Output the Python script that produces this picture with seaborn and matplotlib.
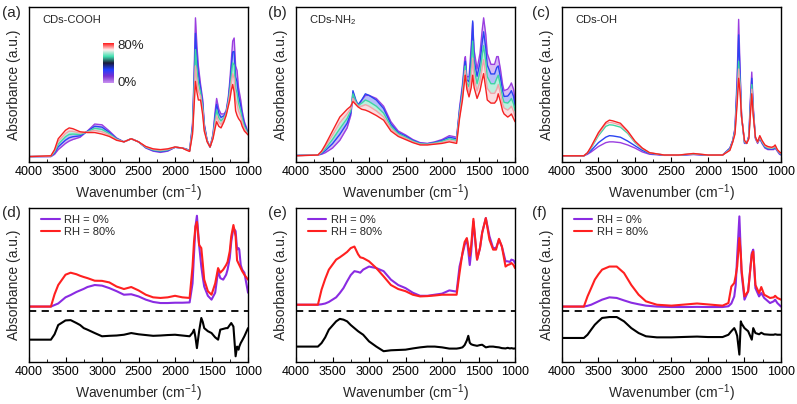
import matplotlib
matplotlib.use("Agg")
import matplotlib.pyplot as plt
from matplotlib.colors import LinearSegmentedColormap
import numpy as np
import seaborn as sns

# --- data: top row, spectra at several RH levels (0, 20, 40, 60, 80 %) ---
WN_A = [4000, 3700, 3650, 3600, 3500, 3450, 3400, 3300, 3200, 3100, 3000, 2900, 2800, 2700,
        2600, 2500, 2400, 2300, 2200, 2100, 2000, 1900, 1850, 1800, 1760, 1740, 1720, 1700,
        1680, 1650, 1620, 1600, 1560, 1520, 1480, 1450, 1430, 1400, 1370, 1330, 1300, 1270,
        1250, 1230, 1210, 1190, 1170, 1150, 1130, 1100, 1080, 1050, 1020, 1000]
A_RH0 = [.035, .035, .05, .08, .12, .135, .145, .16, .20, .245, .24, .20, .155, .13,
         .15, .13, .09, .07, .062, .07, .095, .09, .085, .075, .25, .55, .93, .75,
         .62, .50, .40, .25, .14, .095, .18, .33, .41, .34, .31, .31, .33, .42,
         .52, .65, .78, .80, .62, .59, .48, .40, .33, .26, .22, .18]
A_RH20 = [.035, .036, .058, .098, .141, .156, .163, .169, .198, .231, .225, .191, .151, .13,
          .15, .13, .093, .074, .067, .074, .095, .09, .083, .073, .233, .50, .83, .675,
          .565, .475, .375, .238, .138, .095, .173, .303, .373, .313, .288, .298, .323, .405,
          .49, .603, .71, .713, .548, .518, .43, .365, .305, .245, .211, .179]
A_RH40 = [.035, .037, .065, .115, .163, .178, .18, .178, .195, .218, .21, .183, .148, .13,
          .15, .13, .095, .078, .071, .078, .096, .09, .082, .072, .215, .45, .725, .60,
          .51, .45, .35, .225, .135, .096, .165, .275, .335, .285, .265, .285, .315, .39,
          .46, .555, .64, .625, .475, .445, .38, .33, .28, .23, .203, .178]
A_RH60 = [.035, .039, .073, .133, .184, .199, .198, .186, .193, .204, .195, .174, .144, .13,
          .15, .13, .098, .081, .076, .081, .096, .09, .08, .07, .198, .40, .62, .525,
          .455, .425, .325, .213, .133, .096, .158, .248, .298, .258, .243, .273, .308, .375,
          .43, .508, .57, .538, .403, .373, .33, .295, .255, .215, .194, .176]
A_RH80 = [.035, .04, .08, .15, .205, .22, .215, .195, .19, .19, .18, .165, .14, .13,
          .15, .13, .10, .085, .08, .085, .097, .09, .078, .068, .18, .35, .52, .45,
          .40, .40, .30, .20, .13, .097, .15, .22, .26, .23, .22, .26, .30, .36,
          .40, .46, .50, .45, .33, .30, .28, .26, .23, .20, .185, .175]

WN_B = [4000, 3700, 3650, 3600, 3500, 3400, 3300, 3250, 3220, 3180, 3150, 3100, 3050, 3000,
        2900, 2800, 2700, 2600, 2500, 2400, 2300, 2200, 2100, 2000, 1900, 1800, 1760, 1720,
        1690, 1680, 1660, 1630, 1600, 1580, 1560, 1520, 1480, 1450, 1430, 1400, 1380, 1330,
        1280, 1250, 1230, 1200, 1170, 1150, 1100, 1070, 1050, 1020, 1000]
B_RH0 = [.043, .045, .05, .06, .09, .14, .22, .30, .42, .38, .36, .40, .43, .43,
         .41, .36, .26, .20, .175, .145, .125, .12, .13, .145, .17, .16, .35, .50,
         .66, .68, .55, .55, .75, .90, .72, .60, .70, .85, .93, .82, .70, .63,
         .63, .68, .68, .60, .50, .46, .47, .49, .51, .47, .40]
B_RH20 = [.042, .045, .055, .073, .118, .178, .25, .315, .46, .40, .37, .40, .44, .43,
          .40, .345, .245, .19, .168, .14, .121, .118, .126, .139, .16, .15, .333, .475,
          .628, .65, .53, .518, .683, .91, .66, .553, .64, .77, .84, .733, .625, .568,
          .568, .61, .62, .548, .458, .423, .425, .443, .46, .423, .365]
B_RH40 = [.042, .045, .06, .085, .145, .215, .28, .33, .44, .39, .365, .38, .40, .39,
          .36, .315, .23, .183, .16, .135, .118, .115, .123, .133, .15, .14, .315, .45,
          .595, .62, .51, .485, .615, .78, .60, .505, .58, .69, .75, .645, .55, .505,
          .505, .54, .56, .495, .415, .385, .38, .395, .41, .375, .33]
B_RH60 = [.041, .045, .065, .098, .173, .253, .31, .345, .41, .38, .36, .36, .37, .36,
          .33, .29, .215, .174, .153, .13, .114, .113, .119, .126, .14, .13, .298, .425,
          .563, .59, .49, .453, .548, .67, .54, .458, .52, .61, .66, .558, .475, .443,
          .443, .47, .50, .443, .373, .348, .335, .348, .36, .328, .295]
B_RH80 = [.04, .045, .07, .11, .20, .29, .34, .36, .39, .37, .355, .34, .335, .325,
          .30, .27, .20, .165, .145, .125, .11, .11, .115, .12, .13, .12, .28, .40,
          .53, .56, .47, .42, .48, .56, .48, .41, .46, .53, .57, .47, .40, .38,
          .38, .40, .44, .39, .33, .31, .29, .30, .31, .28, .26]

WN_C = [4000, 3700, 3650, 3600, 3500, 3400, 3350, 3300, 3200, 3100, 3000, 2900, 2800, 2600,
        2400, 2200, 2000, 1800, 1700, 1660, 1630, 1600, 1580, 1560, 1540, 1500, 1470, 1440,
        1420, 1400, 1380, 1350, 1320, 1290, 1260, 1220, 1180, 1130, 1100, 1080, 1050, 1020, 1000]
C_RH0 = [.04, .04, .05, .065, .10, .125, .13, .13, .125, .11, .09, .065, .05, .043,
         .043, .048, .043, .045, .09, .14, .22, .55, .92, .60, .30, .12, .12, .17,
         .40, .58, .36, .15, .12, .15, .12, .09, .08, .08, .08, .09, .07, .05, .045]
C_RH20 = [.04, .04, .055, .075, .125, .16, .17, .168, .16, .135, .105, .075, .055, .044,
          .044, .05, .044, .045, .088, .14, .21, .50, .82, .56, .30, .125, .12, .165,
          .37, .54, .34, .155, .125, .155, .125, .095, .085, .083, .085, .095, .073, .055, .048]
C_RH40 = [.04, .04, .058, .09, .17, .23, .24, .238, .225, .185, .125, .085, .058, .045,
          .045, .052, .045, .045, .082, .135, .20, .44, .65, .50, .29, .13, .12, .16,
          .33, .50, .32, .16, .127, .16, .13, .10, .09, .088, .09, .10, .076, .06, .052]
C_RH60 = [.04, .04, .06, .095, .18, .245, .255, .252, .238, .193, .13, .088, .06, .045,
          .045, .054, .045, .045, .078, .13, .19, .41, .60, .48, .29, .135, .12, .155,
          .31, .47, .31, .16, .128, .165, .135, .105, .095, .09, .095, .105, .078, .062, .055]
C_RH80 = [.04, .04, .06, .10, .19, .255, .27, .265, .25, .20, .135, .09, .06, .045,
          .045, .055, .045, .045, .075, .13, .18, .38, .54, .45, .29, .14, .12, .15,
          .30, .44, .30, .16, .13, .17, .14, .11, .10, .095, .10, .11, .08, .065, .058]

# --- data: bottom row, RH 0 %, RH 80 % and the difference spectrum ---
WN_D = [4000, 3700, 3650, 3600, 3500, 3430, 3350, 3300, 3250, 3200, 3100, 3000, 2900, 2800,
        2700, 2600, 2500, 2400, 2300, 2200, 2100, 2000, 1900, 1800, 1760, 1740, 1720, 1700,
        1670, 1640, 1620, 1600, 1550, 1500, 1450, 1410, 1380, 1340, 1300, 1280, 1250, 1230,
        1200, 1170, 1150, 1130, 1120, 1100, 1080, 1050, 1000]
D_RH0 = [.36, .36, .37, .38, .42, .435, .455, .465, .475, .487, .50, .496, .48, .46,
         .437, .44, .426, .405, .39, .383, .383, .385, .385, .387, .51, .70, .88, .95,
         .76, .62, .55, .49, .43, .405, .45, .59, .545, .535, .567, .60, .675, .78,
         .87, .85, .73, .74, .73, .63, .60, .58, .45]
D_RH80 = [.36, .36, .44, .50, .567, .58, .57, .56, .552, .545, .528, .527, .517, .49,
          .474, .487, .465, .437, .42, .416, .42, .43, .42, .416, .62, .78, .88, .91,
          .76, .74, .64, .535, .46, .437, .51, .61, .58, .60, .63, .65, .72, .816,
          .89, .816, .66, .64, .63, .61, .59, .567, .535]
D_DIFF = [.145, .145, .18, .24, .27, .272, .253, .24, .22, .21, .188, .167, .17, .172,
          .177, .188, .18, .175, .17, .172, .175, .177, .172, .167, .19, .21, .16, .09,
          .20, .286, .26, .22, .20, .188, .16, .145, .21, .215, .22, .22, .24, .253,
          .23, .037, .10, .08, .10, .123, .14, .167, .22]

WN_E = [4000, 3700, 3650, 3600, 3550, 3450, 3400, 3350, 3300, 3250, 3200, 3150, 3120, 3080,
        3000, 2900, 2800, 2700, 2600, 2500, 2400, 2300, 2200, 2100, 2000, 1900, 1800, 1760,
        1720, 1690, 1660, 1640, 1620, 1600, 1570, 1520, 1480, 1450, 1400, 1350, 1300, 1260,
        1220, 1180, 1130, 1100, 1070, 1050, 1020, 1000]
E_RH0 = [.372, .372, .375, .38, .39, .42, .448, .48, .524, .565, .59, .585, .58, .60,
         .62, .61, .59, .535, .50, .48, .45, .43, .43, .437, .444, .465, .457, .62,
         .70, .76, .80, .72, .63, .72, .913, .665, .74, .84, .935, .816, .74, .74,
         .794, .75, .654, .654, .65, .665, .66, .643]
E_RH80 = [.372, .372, .47, .54, .60, .665, .68, .697, .715, .74, .75, .70, .68, .675,
          .654, .61, .556, .50, .474, .46, .437, .426, .428, .432, .437, .437, .437, .578,
          .71, .78, .805, .75, .69, .76, .93, .665, .74, .84, .935, .794, .73, .73,
          .80, .75, .62, .63, .635, .643, .63, .61]
E_DIFF = [.10, .10, .123, .16, .21, .264, .28, .275, .264, .24, .22, .20, .19, .177,
          .134, .10, .07, .076, .078, .08, .088, .095, .10, .10, .095, .087, .087, .09,
          .095, .11, .14, .17, .125, .115, .11, .105, .11, .112, .095, .10, .10, .097,
          .095, .09, .088, .092, .088, .09, .087, .088]

WN_F = [4000, 3700, 3650, 3600, 3550, 3500, 3450, 3350, 3250, 3150, 3050, 2950, 2850, 2700,
        2500, 2300, 2150, 2000, 1800, 1720, 1680, 1640, 1620, 1600, 1570, 1550, 1540, 1500,
        1450, 1400, 1380, 1350, 1300, 1270, 1230, 1150, 1100, 1080, 1050, 1000]
F_RH0 = [.36, .36, .365, .372, .383, .394, .405, .42, .416, .40, .385, .375, .366, .36,
         .357, .357, .358, .357, .357, .362, .38, .426, .50, .686, .946, .70, .578, .405,
         .459, .708, .73, .48, .426, .448, .416, .383, .394, .405, .383, .36]
F_RH80 = [.36, .36, .426, .48, .535, .57, .60, .62, .62, .578, .50, .437, .394, .372,
          .366, .374, .38, .374, .366, .383, .49, .513, .56, .62, .805, .70, .60, .426,
          .459, .697, .718, .50, .448, .487, .437, .416, .42, .43, .416, .405]
F_DIFF = [.156, .156, .177, .21, .242, .265, .286, .292, .292, .264, .22, .188, .167, .16,
          .16, .163, .165, .162, .162, .177, .20, .22, .20, .17, .048, .264, .25, .22,
          .20, .145, .22, .188, .18, .19, .18, .177, .177, .18, .177, .177]

DASH_LEVEL = 0.333
SAMPLE_NAMES = ["CDs-COOH", "CDs-NH$_2$", "CDs-OH"]
PANEL_LABELS = ["(a)", "(b)", "(c)", "(d)", "(e)", "(f)"]
RH_LABELS = ["RH = 0%", "RH = 80%"]
BAR_LABELS = ["80%", "0%"]
X_TICKS = [4000, 3500, 3000, 2500, 2000, 1500, 1000]

# --- styles ---
LEVEL_COLORS = ["#9a3ee0", "#2b44f2", "#3ed6a2", "#f3a3ab", "#f52222"]
BAR_COLORS = ["#c890f0", "#7a30d0", "#2040ff", "#1a1a3a", "#40e0b0", "#fff0f0", "#ff1e1e"]
PURPLE = "#8a2be2"
RED = "#ff2020"

sns.set_style("ticks")
plt.rcParams["font.family"] = ["Liberation Sans", "DejaVu Sans"]
plt.rcParams["mathtext.default"] = "regular"
plt.rcParams["xtick.direction"] = "in"
plt.rcParams["xtick.major.size"] = 3.5
plt.rcParams["xtick.minor.size"] = 2
plt.rcParams["axes.edgecolor"] = "black"
plt.rcParams["axes.linewidth"] = 1.0

fig = plt.figure(figsize=(7.97, 4.04), dpi=100)
lefts = [0.0364, 0.3714, 0.7051]
top_axes = [fig.add_axes([l, 0.599, 0.2748, 0.3837]) for l in lefts]
bot_axes = [fig.add_axes([l, 0.104, 0.2748, 0.381]) for l in lefts]


def style_axis(ax):
    ax.set_xlim(4000, 1000)
    ax.set_ylim(0, 1)
    ax.set_xticks(X_TICKS)
    ax.set_xticks(np.arange(1250, 4000, 500), minor=True)
    ax.set_yticks([])
    ax.tick_params(axis="x", which="both", top=False, labelsize=9, pad=3, colors="black")
    ax.set_xlabel("Wavenumber (cm$^{-1}$)", fontsize=10, labelpad=3)
    ax.set_ylabel("Absorbance (a.u.)", fontsize=10, labelpad=6)
    for s in ax.spines.values():
        s.set_visible(True)
        s.set_color("black")


top_data = [
    (WN_A, [A_RH0, A_RH20, A_RH40, A_RH60, A_RH80], True),
    (WN_B, [B_RH0, B_RH20, B_RH40, B_RH60, B_RH80], True),
    (WN_C, [C_RH0, C_RH20, C_RH40, C_RH60, C_RH80], False),
]
for i, (ax, (wn, levels, fill)) in enumerate(zip(top_axes, top_data)):
    if fill:
        for k in range(len(levels) - 1):
            ax.fill_between(wn, levels[k], levels[k + 1], color=LEVEL_COLORS[k],
                            alpha=0.35, lw=0)
    for k, vals in enumerate(levels):
        sns.lineplot(x=wn, y=vals, ax=ax, color=LEVEL_COLORS[k], lw=1.0, sort=False)
    ax.text(0.06, 0.916, SAMPLE_NAMES[i], transform=ax.transAxes, fontsize=8, va="center")
    style_axis(ax)

# gradient bar in panel (a)
cax = top_axes[0].inset_axes([0.338, 0.51, 0.046, 0.258])
cmap = LinearSegmentedColormap.from_list("rh", BAR_COLORS)
cax.imshow(np.linspace(0, 1, 100)[:, None], aspect="auto", cmap=cmap, origin="lower")
cax.set_axis_off()
top_axes[0].text(0.405, 0.75, BAR_LABELS[0], transform=top_axes[0].transAxes,
                 fontsize=9.5, va="center")
top_axes[0].text(0.405, 0.51, BAR_LABELS[1], transform=top_axes[0].transAxes,
                 fontsize=9.5, va="center")

bot_data = [
    (WN_D, D_RH0, D_RH80, D_DIFF),
    (WN_E, E_RH0, E_RH80, E_DIFF),
    (WN_F, F_RH0, F_RH80, F_DIFF),
]
for ax, (wn, rh0, rh80, diff) in zip(bot_axes, bot_data):
    sns.lineplot(x=wn, y=rh0, ax=ax, color=PURPLE, lw=1.5, sort=False, label=RH_LABELS[0])
    sns.lineplot(x=wn, y=rh80, ax=ax, color=RED, lw=1.5, sort=False, label=RH_LABELS[1])
    sns.lineplot(x=wn, y=diff, ax=ax, color="black", lw=1.5, sort=False)
    ax.axhline(DASH_LEVEL, color="black", lw=1.3, ls=(0, (4, 3)))
    ax.legend(loc="upper left", frameon=False, fontsize=8, handlelength=1.7,
              handletextpad=0.4, labelspacing=0.15, borderaxespad=0.25,
              bbox_to_anchor=(0.02, 1.0))
    style_axis(ax)

label_x = [0.003, 0.336, 0.668]
for i, lab in enumerate(PANEL_LABELS):
    y = 0.968 if i < 3 else 0.474
    fig.text(label_x[i % 3], y, lab, fontsize=11, va="center", ha="left")

fig.savefig("out.png", dpi=100)
